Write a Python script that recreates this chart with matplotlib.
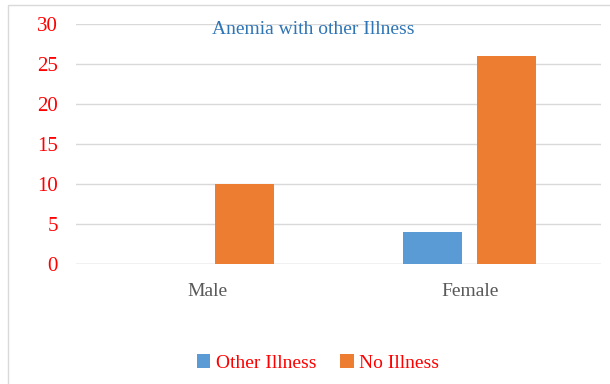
import matplotlib
matplotlib.use("Agg")
import matplotlib.pyplot as plt
import numpy as np
from matplotlib.patches import Rectangle

categories = ["Male", "Female"]
series_names = ["Other Illness", "No Illness"]
other_illness = [0, 4]
no_illness = [10, 26]
yticks = [0, 5, 10, 15, 20, 25, 30]

blue = "#5B9BD5"
orange = "#ED7D31"

plt.rcParams['font.family'] = ['Liberation Serif', 'DejaVu Serif']

fig = plt.figure(figsize=(6.10, 3.84), dpi=100)
W, H = 610, 384
ax = fig.add_axes([76 / W, 1 - 264 / H, (601 - 76) / W, (264 - 24) / H])

x = np.arange(len(categories))
bw = 0.225
off = 0.141
ax.bar(x - off, other_illness, bw, color=blue, label=series_names[0], zorder=3)
ax.bar(x + off, no_illness, bw, color=orange, label=series_names[1], zorder=3)

ax.set_xlim(-0.5, 1.5)
ax.set_ylim(0, 30)
ax.set_yticks(yticks)
ax.set_yticklabels([str(v) for v in yticks], color="#FF0000", fontsize=15)
ax.set_xticks(x)
ax.set_xticklabels(categories, color="#595959", fontsize=14)
ax.tick_params(axis='both', length=0)
ax.tick_params(axis='y', pad=13)
ax.tick_params(axis='x', pad=14)
ax.grid(axis='y', color="#D9D9D9", linewidth=1, zorder=0)
for s in ax.spines.values():
    s.set_visible(False)
ax.axhline(0, color="#D9D9D9", linewidth=1, zorder=2)

fig.text(313 / W, 1 - 29 / H, "Anemia with other Illness", color="#2E75B6",
         fontsize=14, ha='center', va='center')

leg = fig.legend(loc='center', bbox_to_anchor=(318 / W, 1 - 363 / H), ncol=2,
                 frameon=False, fontsize=14, handlelength=0.7, handleheight=0.7,
                 handletextpad=0.3, columnspacing=1.2)
for t in leg.get_texts():
    t.set_color("#FF0000")

fig.patches.append(Rectangle((8 / W, -0.1), 1.2, 1 - 5 / H + 0.1, transform=fig.transFigure,
                             fill=False, edgecolor="#D9D9D9", linewidth=1))

fig.savefig("out.png", dpi=100)
